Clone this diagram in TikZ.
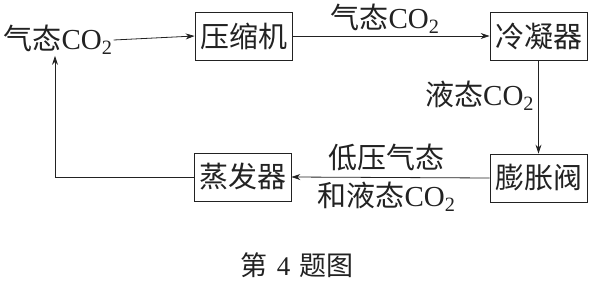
\documentclass[tikz,border=0pt]{standalone}
\usepackage{fontspec}
\setmainfont{Liberation Serif}
\newfontfamily\cjk{Noto Sans CJK SC}
\usetikzlibrary{arrows.meta,positioning}

\definecolor{ink}{HTML}{222222}

\begin{document}
\begin{tikzpicture}[
  x=1pt,
  y=1pt,
  >={Stealth[length=9pt,width=6pt]},
  unitbox/.style={
    draw=ink,
    line width=0.8pt,
    minimum width=97pt,
    minimum height=48pt,
    inner sep=2pt,
    text=ink,
    font=\fontsize{29}{32}\selectfont\cjk
  },
  flowlabel/.style={
    inner sep=1pt,
    text=ink,
    font=\fontsize{29}{32}\selectfont
  },
  flowline/.style={
    ->,
    draw=ink,
    line width=0.8pt
  }
]
\useasboundingbox (0,0) rectangle (595,287);

\node[flowlabel] (gasin) at (58,247) {{\cjk 气态}CO\textsubscript{2}};

\node[unitbox] (compressor) at (243.5,251) {压缩机};
\node[unitbox] (condenser) at (538.5,251) {冷凝器};
\node[unitbox] (valve) at (538.5,109) {膨胀阀};
\node[unitbox] (evaporator) at (242.5,110) {蒸发器};

\draw[flowline] (gasin.east) -- (compressor.west);

\draw[flowline] (compressor.east) --
  node[flowlabel,pos=0.47,above=1pt] {{\cjk 气态}CO\textsubscript{2}}
  (condenser.west);

\draw[flowline] (condenser.south) --
  node[flowlabel,pos=0.38,left=3pt] {{\cjk 液态}CO\textsubscript{2}}
  (valve.north);

\draw[flowline] (valve.west) --
  node[flowlabel,pos=0.52,above=5pt] {\cjk 低压气态}
  node[flowlabel,pos=0.52,below=3pt] {{\cjk 和液态}CO\textsubscript{2}}
  (evaporator.east);

\draw[flowline] (evaporator.west) -| ([xshift=-3pt]gasin.south);

\node[flowlabel,font=\fontsize{27}{30}\selectfont] (caption) at (297,22)
  {{\cjk 第}\hspace{0.35em}4\hspace{0.35em}{\cjk 题图}};

\end{tikzpicture}
\end{document}
